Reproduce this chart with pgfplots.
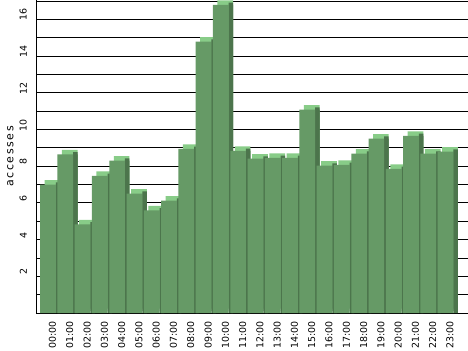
\documentclass[border=0pt]{standalone}
\usepackage{fontspec}
\setmainfont{DejaVu Sans}
\newfontfamily\labfont[LetterSpace=15]{DejaVu Sans}
\usepackage{pgfplots}
\usepackage{pgfplotstable}
\pgfplotsset{compat=1.18}
\definecolor{barfront}{RGB}{102,154,102}
\definecolor{bartop}{RGB}{136,204,136}
\definecolor{barside}{RGB}{76,117,76}
\pgfplotstableread{
x v
0 7.00
1 8.65
2 4.83
3 7.48
4 8.30
5 6.50
6 5.60
7 6.12
8 8.95
9 14.79
10 16.80
11 8.83
12 8.41
13 8.46
14 8.46
15 11.08
16 8.03
17 8.08
18 8.68
19 9.50
20 7.86
21 9.66
22 8.68
23 8.79
}\datatable
\begin{document}
\begin{tikzpicture}
\begin{axis}[
  at={(0,0)}, anchor=south west,
  scale only axis,
  width=432bp, height=313bp,
  xmin=-0.694, xmax=24.30,
  ymin=0, ymax=17.06,
  axis y line*=left,
  axis x line*=bottom,
  x axis line style={draw=none},
  y axis line style={black, line width=0.9bp},
  xtick={0,...,23},
  xticklabels={00:00,01:00,02:00,03:00,04:00,05:00,06:00,07:00,08:00,09:00,10:00,11:00,12:00,13:00,14:00,15:00,16:00,17:00,18:00,19:00,20:00,21:00,22:00,23:00},
  ytick={2,4,...,16},
  minor ytick={0,1,...,17},
  major tick length=0pt, minor tick length=0pt,
  ymajorgrids, yminorgrids,
  major grid style={black, line width=0.9bp},
  minor grid style={black, line width=0.9bp},
  /pgf/number format/assume math mode=true,
  tick label style={font=\fontsize{9.5}{10}\selectfont, text=black},
  xticklabel style={xshift=4.5bp, rotate=90, anchor=east, inner sep=0pt},
  xticklabel shift=8.5bp,
  yticklabel style={yshift=4.5bp, rotate=90, anchor=south, inner sep=0pt},
  yticklabel shift=9bp,
  ylabel={\labfont accesses},
  ylabel style={at={(axis description cs:-0.0595,0.5)}, anchor=center, rotate=0, inner sep=0pt, font=\fontsize{11}{12}\selectfont},
]
\addplot[ybar, bar width=15.7bp, bar shift=4.5bp, yshift=4.5bp, fill=bartop, draw=none] table[x=x, y=v] {\datatable};
\addplot[ybar, bar width=4.5bp, bar shift=10.1bp, fill=barside, draw=none] table[x=x, y=v] {\datatable};
\addplot[ybar, bar width=4.5bp, bar shift=10.1bp, yshift=2.25bp, fill=barside, draw=none] table[x=x, y=v] {\datatable};
\addplot[ybar, bar width=15.7bp, bar shift=0bp, fill=barfront, draw=none] table[x=x, y=v] {\datatable};
\end{axis}
\pgfresetboundingbox
\useasboundingbox (-36bp,-38bp) rectangle (432bp,313bp);
\end{tikzpicture}
\end{document}
